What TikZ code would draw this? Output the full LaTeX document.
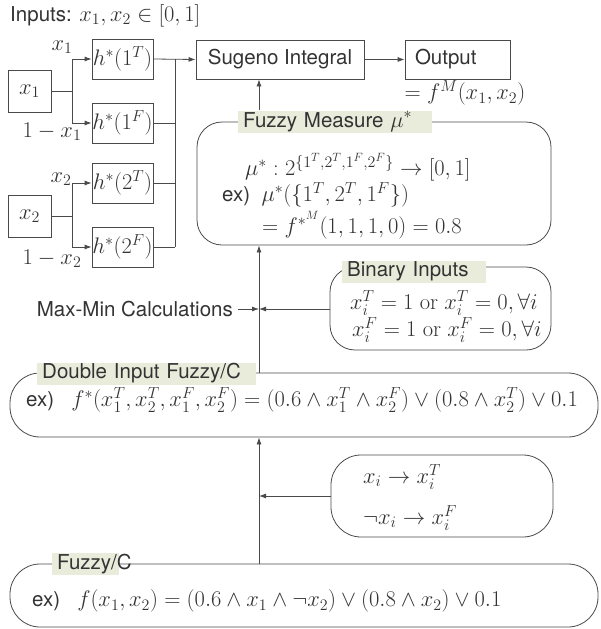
\RequirePackage{fix-cm}
\documentclass[tikz,border=0pt]{standalone}
\usepackage{amsmath}
\usepackage{amssymb}
\usepackage{fontspec}
\setsansfont{TeX Gyre Heros}
\renewcommand{\familydefault}{\sfdefault}
\DeclareMathSizes{20.5}{22.5}{16}{12}
\usetikzlibrary{positioning,arrows.meta,calc}
\definecolor{ink}{HTML}{333333}
\definecolor{edge}{HTML}{4A4A4A}
\definecolor{tagfill}{HTML}{E9EBDB}
\tikzset{
  box/.style   = {draw=edge, line width=0.8pt, inner sep=0pt},
  rbox/.style  = {draw=edge, line width=0.8pt, rounded corners=25pt, inner sep=0pt},
  tag/.style   = {fill=tagfill, anchor=west, align=left, inner xsep=5pt,
                  inner ysep=0pt, minimum height=22pt},
  txt/.style   = {anchor=west, inner sep=0pt},
  ln/.style    = {draw=edge, line width=0.8pt},
  arr/.style   = {-{Latex[length=7pt,width=5pt]}, draw=edge, line width=0.8pt},
}

\begin{document}
\begin{tikzpicture}[x=1pt,y=-1pt,font=\fontsize{20.5}{24}\selectfont,text=ink]
  \path[use as bounding box] (0,0) rectangle (600,629);
  \coordinate (spine) at (259,0);
  \coordinate (col) at (175,0);
  \coordinate (fork) at (72,0);
  % inputs
  \node[txt] (title) at (10,16) {Inputs: $x_1,x_2\in[0,1]$};
  \node[box,minimum width=43pt,minimum height=42pt] (in1) at (29.5,91) {$x_1$};
  \node[box,minimum width=43pt,minimum height=42pt] (in2) at (29.5,216) {$x_2$};
  \foreach \nm/\yy/\lbl in {h1t/59/1^T,h1f/123/1^F,h2t/183/2^T,h2f/247/2^F}{
    \node[box,minimum width=61pt,minimum height=40pt] (\nm) at (122.5,\yy) {$h^*(\lbl)$};}
  \node (l1t) at (62,47) {$x_1$};
  \node (l1f) at (52,132) {$1-x_1$};
  \node (l2t) at (61,179) {$x_2$};
  \node (l2f) at (52,259) {$1-x_2$};
  % forks to h boxes
  \draw[ln] (in1.east) -- (in1.east -| fork);
  \draw[ln] (fork |- h1t) -- (fork |- h1f);
  \draw[arr] (fork |- h1t) -- (h1t.west);
  \draw[arr] (fork |- h1f) -- (h1f.west);
  \draw[ln] (in2.east) -- (in2.east -| fork);
  \draw[ln] (fork |- h2t) -- (fork |- h2f);
  \draw[arr] (fork |- h2t) -- (h2t.west);
  \draw[arr] (fork |- h2f) -- (h2f.west);
  % collector
  \node[box,minimum width=168pt,minimum height=39pt] (sug) at (280,59.5) {Sugeno Integral};
  \node[box,minimum width=105pt,minimum height=39pt,text width=85pt,align=left] (outp) at (457.5,59.5) {Output};
  \node (outeq) at (465,93) {$=f^M(x_1,x_2)$};
  \foreach \nm in {h1f,h2t,h2f}{\draw[ln] (\nm.east) -- (\nm.east -| col);}
  \draw[ln] (col |- h1t) -- (col |- h2f);
  \draw[arr] (h1t.east) -- (sug.west);
  \draw[arr] (sug.east) -- (outp.west);
  % fuzzy measure
  \node[rbox,minimum width=354pt,minimum height=123pt] (fm) at (374,183.5) {};
  \node[tag,text width=184pt] (fmtag) at (238,121.5) {Fuzzy Measure $\mu^*$};
  \node[txt] (fm1) at (245,167) {$\mu^*:2^{\{1^T,2^T,1^F,2^F\}}\rightarrow[0,1]$};
  \node[txt] (fm2) at (222,195) {ex)\ \ $\mu^*(\{1^T,2^T,1^F\})$};
  \node[txt] (fm3) at (262,225) {$=f^{*^M}(1,1,1,0)=0.8$};
  \draw[arr] (fmtag.north -| spine) -- (spine |- sug.south);
  % binary inputs
  \node[rbox,minimum width=221pt,minimum height=83pt] (bin) at (440.5,308.5) {};
  \node[tag,text width=134pt] (bintag) at (342,271.5) {Binary Inputs};
  \node[txt] (bin1) at (350,303) {$x_i^T=1\;\mathrm{or}\;x_i^T=0,\forall i$};
  \node[txt] (bin2) at (352,330) {$x_i^F=1\;\mathrm{or}\;x_i^F=0,\forall i$};
  \node[anchor=east,inner sep=0pt] (maxmin) at (233,309) {Max-Min Calculations};
  % double input fuzzy/c
  \node[rbox,rounded corners=30pt,minimum width=588pt,minimum height=64pt] (dbl) at (304,405) {};
  \node[tag,text width=209pt] (dbltag) at (37,373.5) {Double Input Fuzzy/C};
  \node[txt] (dbl1) at (26,400) {ex)\ \ \ $f^*(x_1^T,x_2^T,x_1^F,x_2^F)=(0.6\wedge x_1^T\wedge x_2^F)\vee(0.8\wedge x_2^T)\vee 0.1$};
  \draw[arr] (spine |- dbl.north) -- (spine |- fm.south);
  \draw[arr] ([xshift=5pt]maxmin.east) -- (spine |- maxmin.east);
  \draw[arr] (bin.west |- maxmin.east) -- (spine |- maxmin.east);
  % mapping
  \node[rbox,rounded corners=30pt,minimum width=222pt,minimum height=82pt] (mapb) at (442,496) {};
  \node[txt] (map1) at (363,477) {$x_i\rightarrow x_i^T$};
  \node[txt] (map2) at (363,518) {$\neg x_i\rightarrow x_i^F$};
  % fuzzy/c
  \node[rbox,rounded corners=30pt,minimum width=588pt,minimum height=63pt] (fzc) at (304,595.5) {};
  \node[tag,text width=57pt] (fzctag) at (52,564) {Fuzzy/C};
  \node[txt] (fzc1) at (32,601) {ex)\ \ \ $f(x_1,x_2)=(0.6\wedge x_1\wedge\neg x_2)\vee(0.8\wedge x_2)\vee 0.1$};
  \draw[arr] (spine |- fzc.north) -- (spine |- dbl.south);
  \draw[arr] (mapb.west) -- (spine |- mapb.west);
\end{tikzpicture}
\end{document}
